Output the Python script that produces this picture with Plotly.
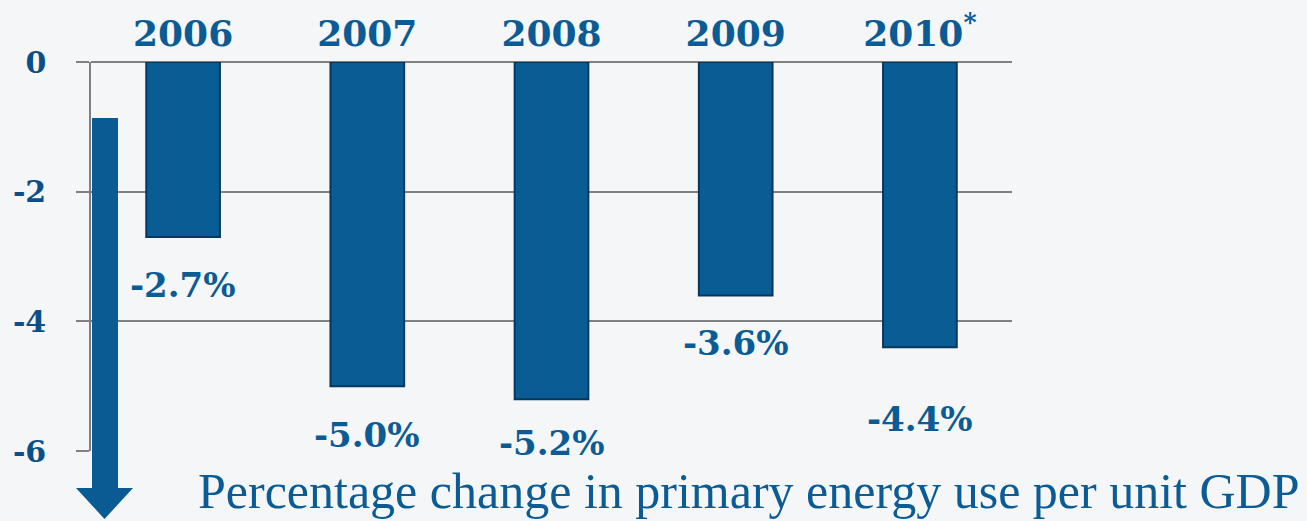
import plotly.graph_objects as go

years = ["2006", "2007", "2008", "2009", "2010<sup>*</sup>"]
values = [-2.7, -5.0, -5.2, -3.6, -4.4]
value_labels = ["-2.7%", "-5.0%", "-5.2%", "-3.6%", "-4.4%"]
y_ticks = [0, -2, -4, -6]
y_tick_labels = ["0", "-2", "-4", "-6"]
caption = "Percentage change in primary energy use per unit GDP"

# style / layout
label_offsets = [48, 49, 44, 48, 72]
BLUE = "#0b5b94"
NAVY = "#0c4f88"
W, H = 1307, 521
ML, MR, MT, MB = 91, 295, 62, 70
PW, PH = W - ML - MR, H - MT - MB

def px(x):
    return (x - ML) / PW

def py(y):
    return (H - MB - y) / PH

pos = list(range(len(years)))

fig = go.Figure()
fig.add_trace(go.Bar(
    x=pos, y=values, width=0.4,
    marker=dict(color="#0a5c95", line=dict(color="#06375c", width=2)),
    hoverinfo="skip",
))

annotations = []
for p, v, lab, off in zip(pos, values, value_labels, label_offsets):
    annotations.append(dict(
        x=p, y=v, xref="x", yref="y", text=lab, showarrow=False,
        yshift=-off, yanchor="middle",
        font=dict(family="DejaVu Serif", size=34, color=BLUE, weight="bold"),
    ))
annotations.append(dict(
    x=px(1302), y=py(491), xref="paper", yref="paper", text=caption,
    showarrow=False, xanchor="right", yanchor="middle",
    font=dict(family="Liberation Serif", size=50, color=BLUE),
))

# downward arrow (decoration)
path = "M {a},{b} L {c},{b} L {c},{d} L {e},{d} L {f},{g} L {h},{d} L {i},{d} L {i},{b} Z".format(
    a=px(92), b=py(118), c=px(118), d=py(488), e=px(133), f=px(104.5), g=py(519),
    h=px(76), i=px(92))
shapes = [dict(type="path", xref="paper", yref="paper", path=path,
               fillcolor="#0a5a93", line=dict(width=0), layer="above")]

fig.update_layout(
    width=W, height=H,
    margin=dict(l=ML, r=MR, t=MT, b=MB, autoexpand=False),
    paper_bgcolor="#f4f6f8", plot_bgcolor="#f4f6f8",
    showlegend=False,
    annotations=annotations, shapes=shapes,
    xaxis=dict(
        automargin=False,
        range=[-0.5, len(years) - 0.5],
        tickvals=pos, ticktext=years,
        side="top", showgrid=False, showline=False, ticks="", zeroline=False,
        tickfont=dict(family="DejaVu Serif", size=36, color=BLUE, weight="bold"),
        ticklabelstandoff=8,
    ),
    yaxis=dict(
        automargin=False,
        range=[-6, 0], tickvals=y_ticks, ticktext=y_tick_labels,
        showgrid=True, gridcolor="#808080", gridwidth=1.5,
        zeroline=True, zerolinecolor="#808080", zerolinewidth=1.5,
        showline=True, linecolor="#808080", linewidth=1.5,
        ticks="outside", ticklen=13, tickcolor="#808080", tickwidth=1.5,
        tickfont=dict(family="DejaVu Serif", size=30, color=NAVY, weight="bold"),
        ticklabelstandoff=24,
    ),
)

fig.write_html("out.html")
